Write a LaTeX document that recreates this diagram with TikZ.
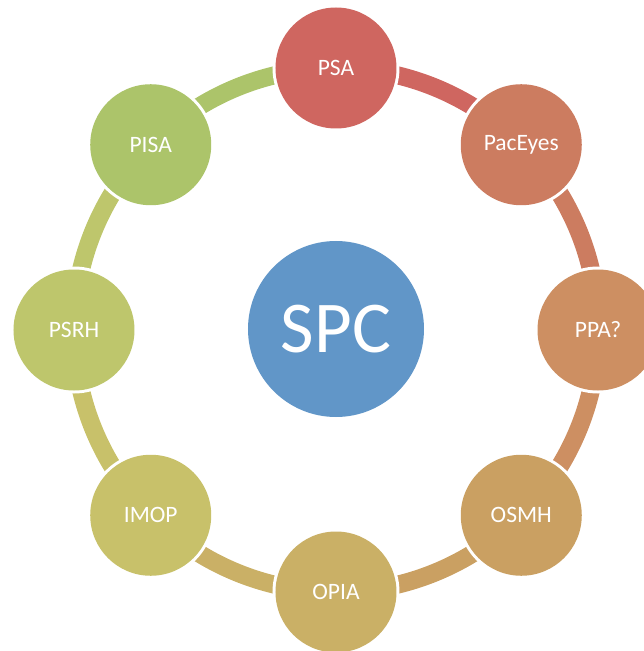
\documentclass[tikz,border=0pt]{standalone}
\usepackage{fontspec}
\setmainfont{Carlito}
\definecolor{cPSA}{HTML}{CF6660}
\definecolor{cPac}{HTML}{CC7C60}
\definecolor{cPPA}{HTML}{CD8F62}
\definecolor{cOSMH}{HTML}{CAA062}
\definecolor{cOPIA}{HTML}{CAB066}
\definecolor{cIMOP}{HTML}{C8C16A}
\definecolor{cPSRH}{HTML}{BEC66C}
\definecolor{cPISA}{HTML}{ACC46A}
\definecolor{cSPC}{HTML}{6196C8}
\begin{document}
\begin{tikzpicture}[x=1pt,y=1pt,
  ring/.style={line width=18pt},
  halo/.style={circle,fill=white,minimum size=127pt,inner sep=0pt},
  sat/.style={circle,minimum size=121pt,inner sep=0pt,text=white,font=\fontsize{23.5}{28}\selectfont},
  hub/.style={circle,minimum size=176pt,inner sep=0pt,text=white,fill=cSPC,font=\fontsize{73}{80}\selectfont}]
\useasboundingbox (-336,-321) rectangle (308,330);
% ring arcs
\draw[ring,cPSA]  (90:262) arc[start angle=90, end angle=45, radius=262];
\draw[ring,cPac]  (45:262) arc[start angle=45, end angle=0, radius=262];
\draw[ring,cPPA]  (0:262) arc[start angle=0, end angle=-45, radius=262];
\draw[ring,cOSMH] (-45:262) arc[start angle=-45, end angle=-90, radius=262];
\draw[ring,cOPIA] (-90:262) arc[start angle=-90, end angle=-135, radius=262];
\draw[ring,cIMOP] (-135:262) arc[start angle=-135, end angle=-180, radius=262];
\draw[ring,cPSRH] (180:262) arc[start angle=180, end angle=135, radius=262];
\draw[ring,cPISA] (135:262) arc[start angle=135, end angle=90, radius=262];
% white halos
\foreach \a in {90,45,0,-45,-90,-135,180,135}
  \node[halo] at (\a:262) {};
% satellites
\node[sat,fill=cPSA]  (psa)  at (90:262)   {PSA};
\node[sat,fill=cPac]  (pac)  at (45:262)   {PacEyes};
\node[sat,fill=cPPA]  (ppa)  at (0:262)    {PPA?};
\node[sat,fill=cOSMH] (osmh) at (-45:262)  {OSMH};
\node[sat,fill=cOPIA] (opia) at (-90:262)  {OPIA};
\node[sat,fill=cIMOP] (imop) at (-135:262) {IMOP};
\node[sat,fill=cPSRH] (psrh) at (180:262)  {PSRH};
\node[sat,fill=cPISA] (pisa) at (135:262)  {PISA};
% hub
\node[hub] (spc) at (0,1) {SPC};
\end{tikzpicture}
\end{document}
